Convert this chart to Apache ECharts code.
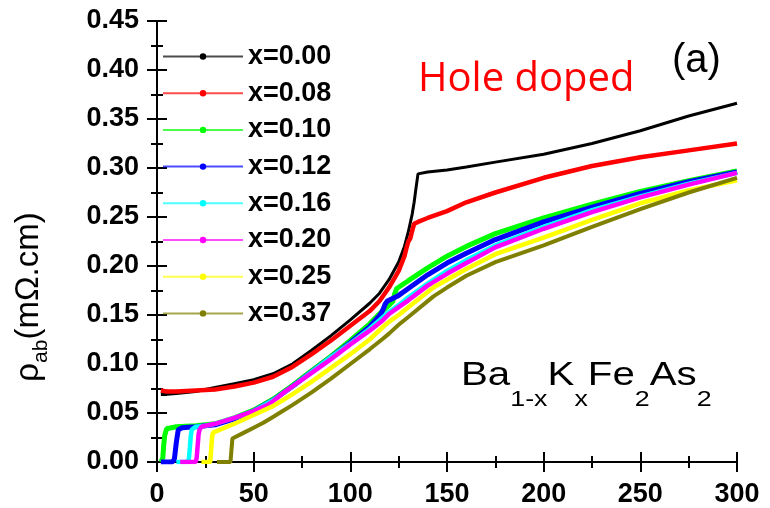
<!DOCTYPE html>
<html>
<head>
<meta charset="utf-8">
<script src="https://cdn.jsdelivr.net/npm/echarts@6/dist/echarts.min.js"></script>
<style>
  html, body { margin: 0; padding: 0; background: #fff; }
  #chart { width: 770px; height: 508px; }
</style>
</head>
<body>
<div id="chart"></div>
<script>
// In-plane resistivity rho_ab (mOhm.cm) versus temperature T (K), Ba(1-x)K(x)Fe2As2
const seriesNames = ['x=0.00', 'x=0.08', 'x=0.10', 'x=0.12', 'x=0.16', 'x=0.20', 'x=0.25', 'x=0.37'];

const T_000 = [2, 5, 10, 20, 30, 40, 50, 60, 70, 80, 90, 100, 110, 115, 120, 125, 128, 130, 132, 133, 134, 135, 136, 140, 150, 160, 175, 200, 225, 250, 275, 300];
const R_000 = [0.069, 0.069, 0.070, 0.072, 0.076, 0.080, 0.084, 0.090, 0.100, 0.114, 0.129, 0.145, 0.162, 0.172, 0.186, 0.204, 0.220, 0.235, 0.253, 0.265, 0.280, 0.294, 0.296, 0.296, 0.298, 0.301, 0.306, 0.314, 0.325, 0.338, 0.353, 0.366];

const T_008 = [2, 5, 10, 20, 30, 40, 50, 60, 70, 80, 90, 100, 110, 115, 120, 125, 128, 129, 130, 131, 132, 133, 135, 140, 150, 160, 175, 200, 225, 250, 275, 300];
const R_008 = [0.073, 0.072, 0.072, 0.073, 0.074, 0.077, 0.081, 0.087, 0.097, 0.110, 0.124, 0.139, 0.154, 0.164, 0.178, 0.195, 0.210, 0.218, 0.225, 0.228, 0.236, 0.243, 0.245, 0.249, 0.256, 0.265, 0.275, 0.290, 0.302, 0.311, 0.318, 0.325];

const T_010 = [2, 3, 3.5, 4, 5, 6, 10, 20, 30, 40, 50, 60, 70, 80, 90, 100, 110, 115, 120, 122, 123, 124, 125, 130, 140, 150, 160, 175, 200, 225, 250, 275, 300];
const R_010 = [0, 0.004, 0.018, 0.027, 0.034, 0.036, 0.036, 0.037, 0.039, 0.045, 0.053, 0.064, 0.078, 0.093, 0.108, 0.124, 0.141, 0.151, 0.160, 0.164, 0.172, 0.177, 0.179, 0.185, 0.198, 0.210, 0.220, 0.233, 0.249, 0.263, 0.276, 0.287, 0.297];

const T_012 = [2, 5, 8, 9, 10, 11, 13, 20, 30, 40, 50, 60, 70, 80, 90, 100, 110, 115, 116, 117, 118, 119, 120, 125, 130, 140, 150, 160, 175, 200, 225, 250, 275, 300];
const R_012 = [0, 0, 0, 0.003, 0.020, 0.033, 0.035, 0.036, 0.038, 0.044, 0.052, 0.063, 0.077, 0.092, 0.107, 0.122, 0.138, 0.149, 0.152, 0.156, 0.161, 0.164, 0.165, 0.170, 0.177, 0.191, 0.203, 0.213, 0.227, 0.245, 0.260, 0.274, 0.286, 0.296];

const T_016 = [10, 14, 16, 16.5, 17, 17.5, 18, 18.5, 20, 25, 30, 40, 50, 60, 70, 80, 90, 100, 110, 117, 120, 125, 130, 140, 150, 160, 175, 200, 225, 250, 275, 300];
const R_016 = [0, 0, 0, 0.004, 0.015, 0.027, 0.033, 0.035, 0.036, 0.037, 0.039, 0.045, 0.052, 0.063, 0.077, 0.092, 0.107, 0.121, 0.136, 0.148, 0.153, 0.160, 0.168, 0.182, 0.195, 0.206, 0.221, 0.240, 0.257, 0.271, 0.284, 0.295];

const T_020 = [12, 16, 20, 20.5, 21, 21.5, 22, 22.5, 23, 25, 30, 40, 50, 57, 60, 65, 70, 80, 90, 100, 110, 117, 120, 125, 130, 140, 150, 160, 175, 200, 225, 250, 275, 300];
const R_020 = [0, 0, 0, 0.004, 0.016, 0.028, 0.033, 0.035, 0.036, 0.037, 0.039, 0.045, 0.052, 0.058, 0.062, 0.070, 0.077, 0.091, 0.105, 0.120, 0.134, 0.145, 0.151, 0.158, 0.165, 0.180, 0.192, 0.203, 0.219, 0.238, 0.255, 0.270, 0.283, 0.295];

const T_025 = [23, 26, 27.5, 28, 28.5, 29, 30, 35, 40, 50, 60, 65, 70, 80, 90, 100, 110, 117, 120, 125, 130, 143, 150, 160, 175, 200, 225, 250, 275, 300];
const R_025 = [0, 0, 0, 0.012, 0.026, 0.030, 0.032, 0.035, 0.039, 0.048, 0.057, 0.063, 0.069, 0.082, 0.096, 0.110, 0.125, 0.138, 0.143, 0.150, 0.158, 0.178, 0.186, 0.197, 0.212, 0.229, 0.247, 0.264, 0.277, 0.2875];

const T_037 = [31, 35, 38, 38.5, 39, 40, 45, 50, 55, 60, 65, 70, 80, 90, 100, 110, 117, 120, 125, 130, 143, 150, 160, 175, 200, 225, 250, 275, 300];
const R_037 = [0, 0, 0, 0.012, 0.024, 0.026, 0.030, 0.035, 0.040, 0.046, 0.052, 0.058, 0.071, 0.085, 0.100, 0.115, 0.126, 0.131, 0.140, 0.148, 0.169, 0.178, 0.190, 0.204, 0.221, 0.240, 0.258, 0.275, 0.290];

const temperatures = [T_000, T_008, T_010, T_012, T_016, T_020, T_025, T_037];
const resistivities = [R_000, R_008, R_010, R_012, R_016, R_020, R_025, R_037];

const lineColors = ['#000000', '#ff0000', '#00ff00', '#0000ff', '#00ffff', '#ff00ff', '#ffff00', '#808000'];
const lineWidths = [3, 4.5, 5, 5, 4.5, 4.5, 4.5, 4];

const FONT = 'Arial, "Liberation Sans", sans-serif';

const chart = echarts.init(document.getElementById('chart'), null, { renderer: 'canvas' });

const series = seriesNames.map((name, i) => ({
  name: name,
  type: 'line',
  data: temperatures[i].map((t, k) => [t, resistivities[i][k]]),
  showSymbol: false,
  symbol: 'circle',
  color: lineColors[i],
  lineStyle: { width: lineWidths[i], color: lineColors[i] },
  animation: false
}));

const tickCommon = {
  axisLine: { show: true, lineStyle: { color: '#000', width: 2 } },
  axisTick: { show: true, inside: true, length: 10, lineStyle: { color: '#000', width: 2 } },
  minorTick: { show: true, splitNumber: 2, length: 6, lineStyle: { color: '#000', width: 2 } },
  splitLine: { show: false }
};

// Main text hangs from the top of each rich-text line; subscripts sit on the
// bottom of a taller line box, which drops them below the main baseline.
const formulaRich = {
  m: { fontFamily: FONT, fontSize: 33, lineHeight: 33, verticalAlign: 'top', fill: '#000' },
  s: { fontFamily: FONT, fontSize: 22, lineHeight: 52, verticalAlign: 'bottom', fill: '#000' }
};
const yNameRich = {
  m: { fontFamily: FONT, fontSize: 33, lineHeight: 33, verticalAlign: 'top', fill: '#000' },
  s: { fontFamily: FONT, fontSize: 21, lineHeight: 40, verticalAlign: 'bottom', fill: '#000' }
};

const option = {
  animation: false,
  backgroundColor: '#ffffff',
  grid: { left: 157, right: 33, top: 21, bottom: 42, containLabel: false },
  xAxis: [
    Object.assign({
      type: 'value', min: 0, max: 300, interval: 50, position: 'bottom',
      axisLabel: { show: true, margin: 19, fontFamily: FONT, fontWeight: 'bold', fontSize: 27, color: '#000' }
    }, tickCommon),
    Object.assign({
      type: 'value', min: 0, max: 300, interval: 50, position: 'top',
      axisLabel: { show: false }
    }, tickCommon)
  ],
  yAxis: [
    Object.assign({
      type: 'value', min: 0, max: 0.45, interval: 0.05, position: 'left',
      axisLabel: { show: true, margin: 18, fontFamily: FONT, fontWeight: 'bold', fontSize: 27, color: '#000',
        formatter: v => v.toFixed(2) }
    }, tickCommon),
    Object.assign({
      type: 'value', min: 0, max: 0.45, interval: 0.05, position: 'right',
      axisLabel: { show: false }
    }, tickCommon)
  ],
  legend: {
    data: seriesNames,
    orient: 'vertical',
    left: 162,
    top: 43,
    padding: 0,
    itemWidth: 80,
    itemHeight: 8,
    itemGap: 9.7,
    lineStyle: { width: 2, opacity: 0.7 },
    textStyle: { fontFamily: FONT, fontWeight: 'bold', fontSize: 27, lineHeight: 26, color: '#000' }
  },
  graphic: [
    {
      type: 'text', left: 418, top: 60, z: 100,
      style: { text: 'Hole doped', fill: '#ff0000', font: '40px "Open Sans", sans-serif' }
    },
    {
      type: 'text', left: 672, top: 41, z: 100,
      style: { text: '(a)', fill: '#000', font: '40px ' + FONT }
    },
    {
      type: 'text', x: 461, y: 359, z: 100, scaleX: 1.22,
      style: {
        text: '{m|Ba}{s|1-x}{m|K}{s|x}{m|Fe}{s|2}{m|As}{s|2}',
        fill: '#000',
        rich: formulaRich
      }
    },
    {
      type: 'text', x: 32, y: 297, rotation: Math.PI / 2, z: 100,
      style: {
        text: '{m|ρ}{s|ab}{m|(mΩ.cm)}',
        align: 'center', verticalAlign: 'middle',
        fill: '#000',
        rich: yNameRich
      }
    }
  ],
  series: series
};

chart.setOption(option);
</script>
</body>
</html>
